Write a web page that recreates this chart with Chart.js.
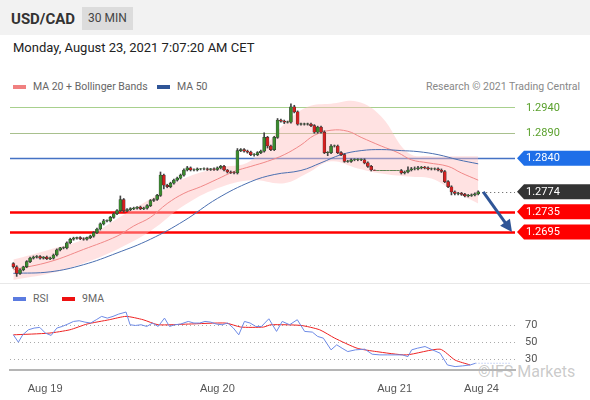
<!DOCTYPE html>
<html>
<head>
<meta charset="utf-8">
<script src="https://cdn.jsdelivr.net/npm/chart.js@4/dist/chart.umd.min.js"></script>
<style>
  body { margin: 0; width: 590px; height: 400px; background: #fff; font-family: Roboto, "Liberation Sans", sans-serif; position: relative; overflow: hidden; }
  #head { position: absolute; left: 0; top: 0; width: 590px; height: 35px; background: #f2f2f2; }
  #sym { position: absolute; left: 11px; top: 10px; font-size: 15px; font-weight: bold; color: #333; }
  #tf { position: absolute; left: 82px; top: 7px; width: 51px; height: 23px; background: #dcdcdc; font-size: 12px; color: #444; text-align: center; line-height: 23px; }
  #date { position: absolute; left: 13px; top: 40px; font-size: 13px; color: #222; }
  .lg { position: absolute; font-size: 10.5px; color: #666; }
  .sw { display: inline-block; width: 13px; height: 4px; vertical-align: middle; margin-right: 7px; }
  #sep { position: absolute; left: 0; top: 283px; width: 590px; height: 1px; background: #e8e8e8; }
  #wm { position: absolute; left: 478px; top: 362px; font-size: 16px; color: rgba(120,120,120,0.4); }
  canvas { position: absolute; left: 0; }
</style>
</head>
<body>
<div id="head"><div id="sym">USD/CAD</div><div id="tf">30 MIN</div></div>
<div id="date">Monday, August 23, 2021 7:07:20 AM CET</div>
<div class="lg" style="left:13px;top:80px"><span class="sw" style="background:#f08080"></span>MA 20 + Bollinger Bands</div>
<div class="lg" style="left:157px;top:80px"><span class="sw" style="background:#2f5597"></span>MA 50</div>
<div class="lg" style="right:10px;top:80px;color:#888">Research © 2021 Trading Central</div>
<div id="sep"></div>
<div class="lg" style="left:13px;top:292px"><span class="sw" style="background:#5b7be0"></span>RSI</div>
<div class="lg" style="left:62px;top:292px"><span class="sw" style="background:#ee1111"></span>9MA</div>
<div id="wm">©IFS Markets</div>
<canvas id="main" width="590" height="192" style="top:90px;width:590px;height:192px"></canvas>
<canvas id="rsi" width="590" height="100" style="top:300px;width:590px;height:100px"></canvas>
<script>
const closes = [
  1.2627, 1.2614, 1.2621, 1.2627, 1.2637, 1.2644, 1.2646, 1.2647, 1.2644, 1.2646,
  1.2643, 1.2644, 1.2650, 1.2660, 1.2664, 1.2664, 1.2674, 1.2681, 1.2683, 1.2684,
  1.2682, 1.2681, 1.2684, 1.2687, 1.2694, 1.2701, 1.2711, 1.2717, 1.2717, 1.2724,
  1.2731, 1.2737, 1.2759, 1.2737, 1.2739, 1.2741, 1.2742, 1.2744, 1.2741, 1.2742,
  1.2747, 1.2757, 1.2759, 1.2767, 1.2807, 1.2787, 1.2784, 1.2791, 1.2797, 1.2801,
  1.2807, 1.2817, 1.2821, 1.2817, 1.2817, 1.2819, 1.2819, 1.2819, 1.2818, 1.2819,
  1.2818, 1.2821, 1.2824, 1.2817, 1.2813, 1.2812, 1.2811, 1.2855, 1.2857, 1.2854,
  1.2852, 1.2847, 1.2847, 1.2851, 1.2854, 1.2881, 1.2864, 1.2857, 1.2881, 1.2915,
  1.2913, 1.2911, 1.2911, 1.2941, 1.2931, 1.2907, 1.2907, 1.2907, 1.2907, 1.2904,
  1.2891, 1.2901, 1.2891, 1.2851, 1.2851, 1.2864, 1.2864, 1.2851, 1.2847, 1.2834,
  1.2834, 1.2837, 1.2837, 1.2837, 1.2837, 1.2831, 1.2824, 1.2817, 1.2816, 1.2816,
  1.2816, 1.2816, 1.2816, 1.2816, 1.2816, 1.2816, 1.2811, 1.2813, 1.2817, 1.2819,
  1.2819, 1.2821, 1.2822, 1.2821, 1.2819, 1.2819, 1.2819, 1.2817, 1.2814, 1.2794,
  1.2784, 1.2774, 1.2771, 1.2771, 1.2769, 1.2766, 1.2767, 1.2768, 1.2770, 1.2774
];
const firstOpen = 1.2633;
// wick lengths in pips
const upWick = [
  2,2,2,1,2,2,2,2,2,1, 2,2,2,2,1,2,2,2,2,1, 2,2,1,2,2,2,2,3,2,2, 2,2,7,2,2,2,2,1,2,2,
  2,2,2,2,6,2,2,2,2,2, 2,2,3,2,2,2,1,2,2,1, 2,2,2,2,1,2,2,4,2,2, 2,2,2,2,2,9,2,2,2,3,
  2,2,2,6,3,2,2,2,2,2, 2,2,2,3,2,3,2,2,2,2, 2,2,2,2,2,2,2,2,0,0, 0,0,0,0,0,0,2,2,6,3,
  4,3,2,2,2,2,2,2,2,2, 2,2,2,2,2,2,2,2,2,2
];
const downWick = [
  3,6,2,2,2,2,2,2,2,2, 2,2,2,2,2,2,2,2,2,2, 2,2,2,2,2,2,2,2,2,2, 2,2,2,3,2,2,2,2,2,2,
  2,2,2,2,2,7,2,2,2,2, 2,2,2,2,2,2,2,2,2,2, 2,2,2,2,2,2,2,2,2,2, 2,2,3,2,2,2,4,2,2,2,
  2,3,2,2,2,2,2,2,2,2, 2,2,2,2,6,2,2,2,2,2, 2,2,2,2,2,2,2,2,0,0, 0,0,0,0,0,0,2,2,2,2,
  2,2,2,2,2,2,2,2,2,2, 2,6,3,3,2,2,2,2,2,2
];
const ma50Idx = [0, 11, 21, 31, 41, 51, 61, 71, 78, 86, 92, 98, 104, 110, 116, 121, 127, 133, 139];
const ma50 = [1.2614, 1.2617, 1.2631, 1.2654, 1.2681, 1.2717, 1.2761, 1.2794, 1.2808, 1.2816, 1.2831, 1.2847, 1.2855, 1.2857, 1.2855, 1.2853, 1.2847, 1.2837, 1.2829];
const ma20Idx = [0, 11, 21, 31, 36, 41, 46, 51, 56, 61, 66, 71, 76, 81, 86, 90, 95, 100, 104, 110, 115, 119, 124, 130, 134, 139];
const ma20 = [1.2621, 1.2637, 1.2661, 1.2687, 1.2707, 1.2724, 1.2751, 1.2771, 1.2784, 1.2799, 1.2814, 1.2824, 1.2834, 1.2847, 1.2866, 1.2885, 1.2895, 1.2893, 1.2881, 1.2864, 1.2851, 1.2837, 1.2831, 1.2824, 1.2811, 1.2797];
const bandIdx = [0, 11, 21, 31, 41, 51, 61, 71, 81, 88, 95, 103, 110, 118, 125, 132, 139];
const bandUpper = [1.2641, 1.2661, 1.2681, 1.2721, 1.2760, 1.2800, 1.2821, 1.2835, 1.2907, 1.2941, 1.2947, 1.2951, 1.2922, 1.2851, 1.2844, 1.2844, 1.2844];
const bandLower = [1.2601, 1.2614, 1.2634, 1.2661, 1.2697, 1.2747, 1.2781, 1.2797, 1.2791, 1.2811, 1.2834, 1.2820, 1.2810, 1.2804, 1.2800, 1.2774, 1.2751];
const levels = [1.2940, 1.2890, 1.2840, 1.2774, 1.2735, 1.2695];
const rsiIdx = [0, 1.5, 2.8, 4.5, 6.2, 7.9, 9.6, 11.3, 13, 14.6, 16.3, 18, 19.7, 21.4, 23.1, 24.8, 26.4, 28.1, 29.8, 31.5,
  33.7, 34.9, 36.5, 38.2, 39.9, 41.6, 43.3, 45.2, 46.7, 48.3, 50, 52.3, 54, 55.7, 57.3, 59, 60.7, 62.4, 64.1, 65.8,
  67.4, 69.1, 70.8, 72.5, 74.2, 76.4, 78.7, 80.4, 82.6, 84.9, 87.1, 89.4, 91, 92.7, 95, 96.7, 98.3, 100, 102.3, 105.1,
  107.3, 109.6, 111.8, 114.1, 116.3, 118, 119.1, 120.8, 123.1, 125.3, 127.6, 129.8, 132.1, 134.3, 136.6, 138.2];
const rsi = [58.2, 49.6, 58.2, 64.1, 66.1, 66.9, 60.2, 57.5, 66.1, 68, 70.8, 73.9, 74.7, 73.1, 72, 75.9, 79.8, 77.8, 79.8, 82.5,
  84.9, 70, 69.2, 70, 68, 72, 68, 77.8, 68, 70, 70.8, 73.9, 72, 72, 73.9, 73.1, 70.8, 70, 72, 66.1,
  58.2, 73.9, 72, 68, 68, 77, 62.2, 73.9, 70, 75.9, 62.2, 61.4, 56.3, 54.3, 40.6, 46.5, 42.5, 38.6, 40.6, 41.4,
  35.5, 34.7, 34.7, 34.7, 34.7, 32.7, 40.6, 42.5, 44.5, 40.6, 36.7, 22.9, 21, 21.8, 22.9, 24.9];
const ma9Idx = [0, 10.7, 16.9, 22, 28.7, 33.7, 38.8, 43.3, 52.3, 63.5, 68, 74.8, 77, 86, 91.6, 96.1, 102.8, 108.5, 117.5, 127.6, 132.1, 136.6];
const ma9 = [58.2, 60.2, 64.1, 70.8, 75.9, 79.8, 75.9, 70, 70.8, 72, 67.3, 67.3, 70, 69.2, 64.1, 54.3, 42.5, 38.6, 34.7, 41.4, 28.6, 22.9];
const rsiLevels = [70, 50, 30];
const dayIdx = [9.5, 61, 114, 140];
const dayLabels = ['Aug 19', 'Aug 20', 'Aug 21', 'Aug 24'];

const pip = 0.0001;
const opens = closes.map((c, i) => (i === 0 ? firstOpen : closes[i - 1]));
const bodies = closes.map((c, i) => ({ x: i, y: [opens[i], c === opens[i] ? c + 0.00004 : c] }));
const wicks = closes.map((c, i) => ({
  x: i,
  y: [Math.min(opens[i], c) - downWick[i] * pip, Math.max(opens[i], c) + upWick[i] * pip]
}));
const candleColors = closes.map((c, i) => (c >= opens[i] ? '#3a8a2e' : '#d42020'));
const xy = (xs, ys) => xs.map((x, i) => ({ x, y: ys[i] }));

const levelStyle = [
  { color: '#a8d08d', width: 1, text: '#5aa02c', box: null },
  { color: '#a8c08d', width: 1, text: '#5aa02c', box: null },
  { color: '#4472c4', width: 1.5, text: '#fff', box: '#1f6fe8' },
  { color: '#555', width: 1, text: '#fff', box: '#333333', dotted: true },
  { color: '#ff0000', width: 2.5, text: '#fff', box: '#ff0000' },
  { color: '#ff0000', width: 2.5, text: '#fff', box: '#ff0000' }
];

const levelPlugin = {
  id: 'levels',
  beforeDatasetsDraw(chart) {
    const { ctx, chartArea, scales } = chart;
    ctx.save();
    levels.forEach((v, k) => {
      const st = levelStyle[k];
      const y = Math.round(scales.y.getPixelForValue(v)) + 0.5;
      ctx.strokeStyle = st.color;
      ctx.lineWidth = st.width;
      ctx.beginPath();
      if (st.dotted) {
        ctx.setLineDash([1, 3]);
        ctx.moveTo(scales.x.getPixelForValue(closes.length - 1), y);
      } else {
        ctx.moveTo(chartArea.left, y);
      }
      ctx.lineTo(chartArea.right, y);
      ctx.stroke();
      ctx.setLineDash([]);
    });
    ctx.restore();
  },
  afterDatasetsDraw(chart) {
    const { ctx, chartArea, scales } = chart;
    ctx.save();
    ctx.font = '11px Roboto, sans-serif';
    ctx.textBaseline = 'middle';
    levels.forEach((v, k) => {
      const st = levelStyle[k];
      const y = scales.y.getPixelForValue(v);
      const x0 = chartArea.right + 2;
      if (st.box) {
        ctx.fillStyle = st.box;
        ctx.beginPath();
        ctx.moveTo(x0, y);
        ctx.lineTo(x0 + 7, y - 7.5);
        ctx.lineTo(590, y - 7.5);
        ctx.lineTo(590, y + 7.5);
        ctx.lineTo(x0 + 7, y + 7.5);
        ctx.closePath();
        ctx.fill();
      }
      ctx.fillStyle = st.text;
      ctx.fillText(v.toFixed(4), x0 + 9, y + 0.5);
    });
    // arrow from last close toward the second support
    const ax = scales.x.getPixelForValue(closes.length + 0.5);
    const ay = scales.y.getPixelForValue(closes[closes.length - 1]);
    const bx = chartArea.right - 3;
    const by = scales.y.getPixelForValue(levels[5]);
    ctx.strokeStyle = '#2f5597';
    ctx.fillStyle = '#2f5597';
    ctx.lineWidth = 3;
    const ang = Math.atan2(by - ay, bx - ax);
    ctx.beginPath();
    ctx.moveTo(ax, ay);
    ctx.lineTo(bx - 8 * Math.cos(ang), by - 8 * Math.sin(ang));
    ctx.stroke();
    ctx.beginPath();
    ctx.moveTo(bx, by);
    ctx.lineTo(bx - 12 * Math.cos(ang) + 6 * Math.sin(ang), by - 12 * Math.sin(ang) - 6 * Math.cos(ang));
    ctx.lineTo(bx - 12 * Math.cos(ang) - 6 * Math.sin(ang), by - 12 * Math.sin(ang) + 6 * Math.cos(ang));
    ctx.closePath();
    ctx.fill();
    ctx.restore();
  }
};

new Chart(document.getElementById('main'), {
  type: 'bar',
  data: {
    datasets: [
      { type: 'line', data: xy(bandIdx, bandUpper), borderWidth: 0, pointRadius: 0, tension: 0.4, fill: false, order: 5 },
      { type: 'line', data: xy(bandIdx, bandLower), borderWidth: 0, pointRadius: 0, tension: 0.4, fill: '-1', backgroundColor: 'rgba(255,190,190,0.45)', order: 5 },
      { type: 'line', data: xy(ma50Idx, ma50), borderColor: '#4a6fb0', borderWidth: 1, pointRadius: 0, tension: 0.4, order: 4 },
      { type: 'line', data: xy(ma20Idx, ma20), borderColor: '#f08888', borderWidth: 1, pointRadius: 0, tension: 0.4, order: 4 },
      { data: wicks, backgroundColor: '#444', barThickness: 1, grouped: false, order: 2 },
      { data: bodies, backgroundColor: candleColors, borderColor: '#333', borderWidth: 0.5, borderSkipped: false, barThickness: 3, grouped: false, order: 1 }
    ]
  },
  options: {
    responsive: false,
    animation: false,
    layout: { padding: { left: 10, right: 75, top: 0, bottom: 0 } },
    plugins: { legend: { display: false }, tooltip: { enabled: false } },
    scales: {
      x: { type: 'linear', offset: false, min: -1, max: 150, display: false },
      y: { min: 1.2597, max: 1.2974, display: false }
    }
  },
  plugins: [levelPlugin]
});

const rsiPlugin = {
  id: 'rsiLevels',
  beforeDatasetsDraw(chart) {
    const { ctx, chartArea, scales } = chart;
    ctx.save();
    ctx.font = '11px Roboto, sans-serif';
    ctx.textBaseline = 'middle';
    rsiLevels.forEach(v => {
      const y = Math.round(scales.y.getPixelForValue(v)) + 0.5;
      ctx.strokeStyle = '#aaa';
      ctx.lineWidth = 1;
      ctx.setLineDash([1, 3]);
      ctx.beginPath();
      ctx.moveTo(chartArea.left, y);
      ctx.lineTo(chartArea.right, y);
      ctx.stroke();
      ctx.fillStyle = '#555';
      ctx.fillText(String(v), chartArea.right + 10, y);
    });
    ctx.restore();
  }
};

new Chart(document.getElementById('rsi'), {
  type: 'line',
  data: {
    datasets: [
      { data: xy(rsiIdx, rsi), borderColor: '#6d8ae6', borderWidth: 1, pointRadius: 0, tension: 0 },
      { data: xy([138.2, 149], [24.9, 24.9]), borderColor: '#9fb3ee', borderWidth: 1, borderDash: [1, 2], pointRadius: 0 },
      { data: xy(ma9Idx, ma9), borderColor: '#ee2222', borderWidth: 1, pointRadius: 0, tension: 0.2 }
    ]
  },
  options: {
    responsive: false,
    animation: false,
    layout: { padding: { left: 10, right: 75, top: 0, bottom: 0 } },
    plugins: { legend: { display: false }, tooltip: { enabled: false } },
    scales: {
      x: {
        type: 'linear', offset: false, min: -1, max: 150,
        afterBuildTicks: s => { s.ticks = dayIdx.map(v => ({ value: v })); },
        afterFit: s => { s.height = 30; },
        ticks: {
          autoSkip: false, maxRotation: 0, color: '#555', font: { size: 11 }, padding: 4,
          callback: (v, i) => dayLabels[i]
        },
        grid: { display: false, drawTicks: true },
        border: { color: '#b5b5b5', width: 2 }
      },
      y: { min: 17, max: 99, display: false }
    }
  },
  plugins: [rsiPlugin]
});
</script>
</body>
</html>
